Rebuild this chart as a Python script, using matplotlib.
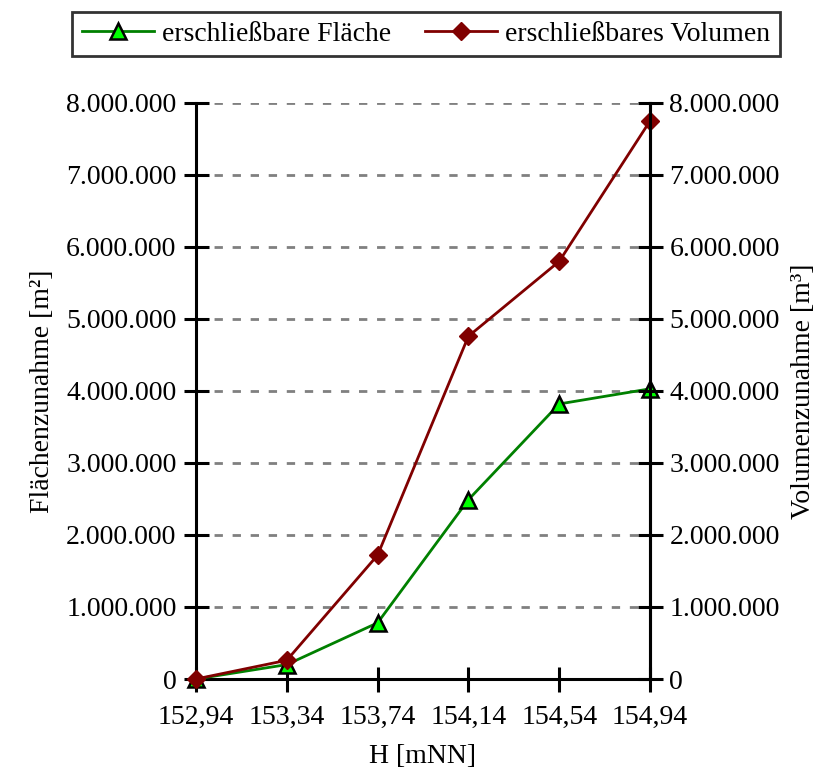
import matplotlib.pyplot as plt
from matplotlib.ticker import FuncFormatter

plt.rcParams['font.family'] = ['Liberation Serif', 'DejaVu Serif']

hoehe = ['152,94', '153,34', '153,74', '154,14', '154,54', '154,94']
flaeche = [0, 200000, 780000, 2490000, 3820000, 4030000]
volumen = [0, 260000, 1720000, 4760000, 5800000, 7750000]
yticks = [0, 1000000, 2000000, 3000000, 4000000, 5000000, 6000000, 7000000, 8000000]

FS = 20


def fmt(v, pos):
    return '{:,.0f}'.format(v).replace(',', '.')


fig = plt.figure(figsize=(8.29, 7.73), dpi=100)
ax = fig.add_axes([0.2364, 0.1216, 0.5477, 0.7452])
x = list(range(len(hoehe)))

l1, = ax.plot(x, flaeche, color='#008000', lw=2, marker='^', ms=12,
              mfc='#00ff00', mec='black', mew=1.8, clip_on=False, zorder=4,
              label='erschließbare Fläche')
l2, = ax.plot(x, volumen, color='#800000', lw=2, marker='D', ms=9,
              mfc='#800000', mec='#800000', clip_on=False, zorder=5,
              label='erschließbares Volumen')

ax.set_xlim(0, len(hoehe) - 1)
ax.set_ylim(0, 8000000)
ax.set_xticks(x)
ax.set_xticklabels(hoehe)
ax.set_yticks(yticks)
ax.yaxis.set_major_formatter(FuncFormatter(fmt))
for v in yticks[1:]:
    ax.axhline(v, color='#808080', lw=2, ls=(0, (3, 3.5)), zorder=1)

ax.spines['top'].set_visible(False)
for s in ['left', 'right', 'bottom']:
    ax.spines[s].set_linewidth(2.2)

ax.tick_params(axis='both', direction='inout', length=18, width=2.2,
               labelsize=FS, pad=5)
ax.tick_params(axis='x', pad=10)
ax.set_ylabel('Flächenzunahme [m²]', fontsize=FS, labelpad=8)
ax.set_xlabel('H [mNN]', fontsize=FS, labelpad=10)

ax2 = ax.twinx()
ax2.set_ylim(0, 8000000)
ax2.set_yticks(yticks)
ax2.yaxis.set_major_formatter(FuncFormatter(fmt))
ax2.tick_params(axis='y', direction='inout', length=18, width=2.2,
                labelsize=FS, pad=5)
for s in ['top', 'left', 'bottom']:
    ax2.spines[s].set_visible(False)
ax2.spines['right'].set_linewidth(2.2)
ax2.set_ylabel('Volumenzunahme [m³]', fontsize=FS, labelpad=8)

leg = fig.legend(handles=[l1, l2], loc='center', bbox_to_anchor=(0.514, 0.956),
                 ncol=2, fontsize=FS, frameon=True, fancybox=False,
                 edgecolor='black', handlelength=2.6, columnspacing=1.2,
                 handletextpad=0.3, borderpad=0.35)
leg.get_frame().set_linewidth(2)

fig.savefig('out.png', dpi=100)
